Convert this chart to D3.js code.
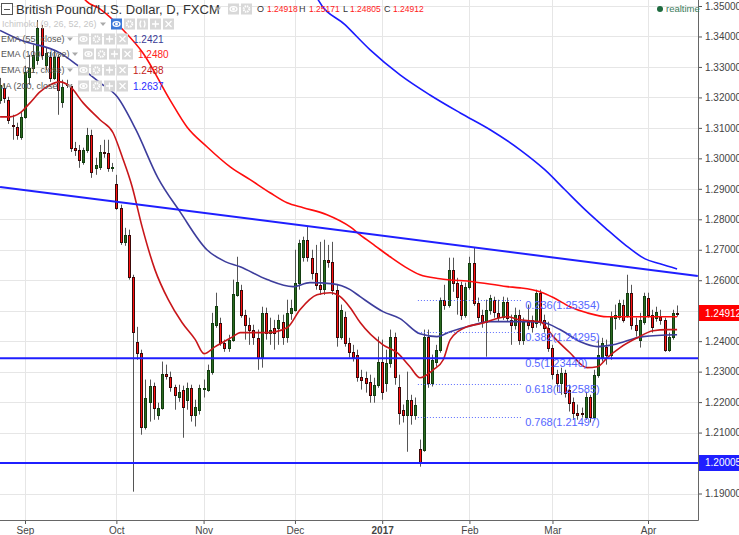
<!DOCTYPE html>
<html>
<head>
<meta charset="utf-8">
<script src="https://cdn.jsdelivr.net/npm/d3@7"></script>
<style>
body { margin: 0; background: #fff; }
svg { display: block; font-family: 'Liberation Sans', Arial, sans-serif; }
</style>
</head>
<body>
<script>
// daily GBP/USD candles, [open, high, low, close], one per trading day from late Aug 2016
const candles = [
  [1.3192, 1.3264, 1.3179, 1.3241], [1.3231, 1.3244, 1.3182, 1.3199], [1.3192, 1.3202, 1.3113, 1.3126],
  [1.3110, 1.3143, 1.3061, 1.3107], [1.3103, 1.3117, 1.3061, 1.3077], [1.3071, 1.3153, 1.3061, 1.3136],
  [1.3136, 1.3304, 1.3130, 1.3284], [1.3267, 1.3340, 1.3241, 1.3297], [1.3297, 1.3372, 1.3284, 1.3340],
  [1.3323, 1.3454, 1.3307, 1.3428], [1.3428, 1.3438, 1.3323, 1.3340], [1.3307, 1.3363, 1.3290, 1.3346],
  [1.3333, 1.3349, 1.3251, 1.3264], [1.3264, 1.3356, 1.3258, 1.3333], [1.3333, 1.3340, 1.3143, 1.3225],
  [1.3185, 1.3258, 1.3166, 1.3235], [1.3241, 1.3258, 1.3231, 1.3244], [1.3238, 1.3244, 1.3021, 1.3035],
  [1.3035, 1.3054, 1.3008, 1.3028], [1.3028, 1.3044, 1.2969, 1.2995], [1.2989, 1.3035, 1.2979, 1.3028],
  [1.3028, 1.3100, 1.3018, 1.3077], [1.3077, 1.3094, 1.2936, 1.2956], [1.2969, 1.3002, 1.2946, 1.2979],
  [1.2972, 1.3044, 1.2962, 1.3021], [1.3021, 1.3061, 1.3002, 1.3018], [1.3018, 1.3061, 1.2956, 1.2969],
  [1.2969, 1.2985, 1.2956, 1.2972], [1.2916, 1.2946, 1.2831, 1.2838], [1.2838, 1.2848, 1.2716, 1.2726],
  [1.2726, 1.2772, 1.2713, 1.2749], [1.2749, 1.2766, 1.2602, 1.2611], [1.2611, 1.2618, 1.1906, 1.2431],
  [1.2398, 1.2447, 1.2339, 1.2362], [1.2362, 1.2372, 1.2093, 1.2120], [1.2120, 1.2274, 1.2110, 1.2215],
  [1.2201, 1.2274, 1.2136, 1.2254], [1.2254, 1.2264, 1.2142, 1.2182], [1.2159, 1.2198, 1.2142, 1.2182],
  [1.2182, 1.2333, 1.2175, 1.2293], [1.2293, 1.2323, 1.2274, 1.2287], [1.2283, 1.2300, 1.2234, 1.2251],
  [1.2251, 1.2257, 1.2175, 1.2224], [1.2218, 1.2257, 1.2201, 1.2234], [1.2241, 1.2254, 1.2083, 1.2185],
  [1.2208, 1.2264, 1.2175, 1.2247], [1.2247, 1.2257, 1.2136, 1.2159], [1.2159, 1.2208, 1.2120, 1.2185],
  [1.2175, 1.2257, 1.2159, 1.2247], [1.2244, 1.2274, 1.2215, 1.2246], [1.2241, 1.2323, 1.2234, 1.2306],
  [1.2300, 1.2493, 1.2290, 1.2461], [1.2454, 1.2559, 1.2444, 1.2516], [1.2461, 1.2477, 1.2385, 1.2395],
  [1.2395, 1.2405, 1.2365, 1.2379], [1.2379, 1.2421, 1.2365, 1.2405], [1.2405, 1.2602, 1.2398, 1.2556],
  [1.2552, 1.2677, 1.2546, 1.2595], [1.2569, 1.2585, 1.2477, 1.2487], [1.2487, 1.2503, 1.2405, 1.2454],
  [1.2454, 1.2477, 1.2388, 1.2438], [1.2438, 1.2454, 1.2388, 1.2415], [1.2411, 1.2438, 1.2306, 1.2346],
  [1.2346, 1.2513, 1.2313, 1.2493], [1.2493, 1.2510, 1.2405, 1.2428], [1.2428, 1.2477, 1.2388, 1.2438],
  [1.2444, 1.2470, 1.2372, 1.2428], [1.2444, 1.2487, 1.2388, 1.2470], [1.2464, 1.2487, 1.2388, 1.2415],
  [1.2415, 1.2536, 1.2395, 1.2493], [1.2493, 1.2536, 1.2470, 1.2510], [1.2503, 1.2700, 1.2497, 1.2592],
  [1.2592, 1.2733, 1.2569, 1.2723], [1.2677, 1.2743, 1.2661, 1.2733], [1.2733, 1.2775, 1.2661, 1.2677],
  [1.2674, 1.2700, 1.2602, 1.2625], [1.2625, 1.2716, 1.2569, 1.2585], [1.2585, 1.2726, 1.2552, 1.2572],
  [1.2572, 1.2733, 1.2552, 1.2667], [1.2667, 1.2716, 1.2641, 1.2661], [1.2661, 1.2726, 1.2552, 1.2569],
  [1.2569, 1.2585, 1.2382, 1.2415], [1.2415, 1.2520, 1.2405, 1.2503], [1.2480, 1.2497, 1.2382, 1.2395],
  [1.2395, 1.2411, 1.2346, 1.2365], [1.2365, 1.2388, 1.2333, 1.2349], [1.2356, 1.2372, 1.2267, 1.2283],
  [1.2283, 1.2306, 1.2241, 1.2274], [1.2280, 1.2300, 1.2231, 1.2264], [1.2267, 1.2290, 1.2198, 1.2224],
  [1.2224, 1.2280, 1.2198, 1.2257], [1.2257, 1.2415, 1.2247, 1.2333], [1.2333, 1.2405, 1.2208, 1.2234],
  [1.2264, 1.2372, 1.2234, 1.2329], [1.2329, 1.2438, 1.2313, 1.2415], [1.2415, 1.2428, 1.2257, 1.2283],
  [1.2251, 1.2290, 1.2126, 1.2165], [1.2175, 1.2192, 1.2133, 1.2159], [1.2159, 1.2300, 1.2037, 1.2208],
  [1.2208, 1.2224, 1.2126, 1.2159], [1.2159, 1.2215, 1.2142, 1.2192], [1.2047, 1.2077, 1.1988, 1.2001],
  [1.2044, 1.2438, 1.2037, 1.2415], [1.2415, 1.2438, 1.2247, 1.2264], [1.2264, 1.2356, 1.2251, 1.2339],
  [1.2333, 1.2388, 1.2316, 1.2372], [1.2372, 1.2543, 1.2362, 1.2536], [1.2536, 1.2585, 1.2503, 1.2520],
  [1.2520, 1.2674, 1.2510, 1.2634], [1.2634, 1.2674, 1.2562, 1.2592], [1.2592, 1.2608, 1.2487, 1.2546],
  [1.2585, 1.2595, 1.2470, 1.2487], [1.2487, 1.2592, 1.2477, 1.2579], [1.2579, 1.2677, 1.2569, 1.2657],
  [1.2657, 1.2707, 1.2516, 1.2526], [1.2526, 1.2543, 1.2464, 1.2480], [1.2487, 1.2503, 1.2444, 1.2464],
  [1.2464, 1.2536, 1.2349, 1.2503], [1.2503, 1.2552, 1.2487, 1.2543], [1.2536, 1.2546, 1.2477, 1.2497],
  [1.2493, 1.2536, 1.2464, 1.2480], [1.2480, 1.2546, 1.2470, 1.2529], [1.2529, 1.2543, 1.2464, 1.2477],
  [1.2470, 1.2487, 1.2388, 1.2454], [1.2454, 1.2510, 1.2438, 1.2487], [1.2487, 1.2503, 1.2388, 1.2405],
  [1.2405, 1.2477, 1.2388, 1.2464], [1.2464, 1.2520, 1.2438, 1.2454], [1.2470, 1.2484, 1.2428, 1.2447],
  [1.2461, 1.2569, 1.2444, 1.2559], [1.2559, 1.2569, 1.2451, 1.2464], [1.2470, 1.2487, 1.2428, 1.2444],
  [1.2444, 1.2464, 1.2365, 1.2379], [1.2379, 1.2388, 1.2274, 1.2293], [1.2293, 1.2306, 1.2234, 1.2264],
  [1.2264, 1.2313, 1.2224, 1.2297], [1.2297, 1.2306, 1.2215, 1.2231], [1.2241, 1.2257, 1.2169, 1.2198],
  [1.2201, 1.2215, 1.2142, 1.2165], [1.2165, 1.2192, 1.2142, 1.2159], [1.2165, 1.2182, 1.2149, 1.2162],
  [1.2152, 1.2234, 1.2142, 1.2218], [1.2218, 1.2224, 1.2133, 1.2152], [1.2152, 1.2306, 1.2142, 1.2290],
  [1.2290, 1.2405, 1.2280, 1.2356], [1.2349, 1.2411, 1.2333, 1.2395], [1.2382, 1.2405, 1.2323, 1.2356],
  [1.2356, 1.2497, 1.2339, 1.2480], [1.2477, 1.2520, 1.2438, 1.2487], [1.2480, 1.2536, 1.2470, 1.2526],
  [1.2520, 1.2536, 1.2461, 1.2470], [1.2487, 1.2618, 1.2477, 1.2559], [1.2559, 1.2585, 1.2438, 1.2454],
  [1.2454, 1.2477, 1.2415, 1.2438], [1.2405, 1.2493, 1.2379, 1.2470], [1.2464, 1.2559, 1.2454, 1.2549],
  [1.2543, 1.2559, 1.2477, 1.2487], [1.2487, 1.2503, 1.2428, 1.2447], [1.2477, 1.2513, 1.2464, 1.2497],
  [1.2480, 1.2503, 1.2454, 1.2470], [1.2470, 1.2477, 1.2365, 1.2372], [1.2372, 1.2428, 1.2365, 1.2415],
  [1.2415, 1.2503, 1.2405, 1.2493], [1.24918, 1.25171, 1.24805, 1.24912]
]

// indicator lines, [bar, price]
const ema100 = [[19.5, 1.3560], [20.5, 1.3520], [24.1, 1.3490], [29.6, 1.3422], [34.4, 1.3346], [40.9, 1.3192],
  [45.0, 1.3103], [49.8, 1.3038], [55.4, 1.2972], [60.2, 1.2930], [65.0, 1.2887], [69.1, 1.2854], [73.0, 1.2838],
  [78.7, 1.2815], [84.3, 1.2775], [86.7, 1.2749], [90.3, 1.2713], [93.9, 1.2677], [97.5, 1.2644], [101.1, 1.2618],
  [105.9, 1.2605], [113.9, 1.2595], [122.1, 1.2579], [125.2, 1.2575], [130.0, 1.2562], [133.2, 1.2543],
  [137.2, 1.2513], [141.3, 1.2493], [146.2, 1.2480], [149.3, 1.2480], [157.2, 1.2480], [163, 1.2480]]
const ema21 = [[0, 1.3136], [2.4, 1.3136], [4.8, 1.3149], [7.2, 1.3182], [9.6, 1.3218], [12.0, 1.3241],
  [14.4, 1.3251], [16.9, 1.3235], [20.0, 1.3182], [24.1, 1.3126], [27.2, 1.3084], [29.4, 1.3005], [31.8, 1.2907],
  [34.2, 1.2775], [37.3, 1.2634], [40.5, 1.2536], [43.8, 1.2461], [47.0, 1.2405], [49.1, 1.2359], [51.8, 1.2382],
  [56.1, 1.2415], [57.8, 1.2428], [64.3, 1.2428], [69.1, 1.2444], [72.2, 1.2503], [76.3, 1.2552], [79.5, 1.2559],
  [81.9, 1.2546], [84.3, 1.2510], [86.7, 1.2461], [92.2, 1.2388], [95.6, 1.2362], [98.7, 1.2316], [101.1, 1.2280],
  [104.3, 1.2306], [106.7, 1.2339], [108.4, 1.2405], [112.4, 1.2447], [115.6, 1.2457], [122.1, 1.2480],
  [125.2, 1.2470], [130.0, 1.2464], [133.2, 1.2415], [137.2, 1.2362], [141.3, 1.2313], [143.8, 1.2316],
  [146.2, 1.2346], [149.3, 1.2379], [153.4, 1.2411], [157.2, 1.2434], [160.6, 1.2438], [163, 1.2438]]
const ema55 = [[0, 1.3420], [4.8, 1.3389], [14.4, 1.3346], [18.5, 1.3307], [24.1, 1.3248], [28.2, 1.3202],
  [32.7, 1.3094], [38.0, 1.2936], [43.3, 1.2825], [49.8, 1.2700], [54.2, 1.2661], [57.8, 1.2644], [64.3, 1.2602],
  [70.5, 1.2579], [74.6, 1.2592], [80.2, 1.2588], [84.3, 1.2569], [86.7, 1.2546], [92.2, 1.2497], [96.3, 1.2474],
  [101.1, 1.2424], [105.2, 1.2415], [108.4, 1.2431], [112.4, 1.2447], [118.0, 1.2464], [126.9, 1.2464],
  [130.7, 1.2461], [134.8, 1.2438], [139.7, 1.2398], [143.8, 1.2382], [147.6, 1.2388], [154.8, 1.2415], [163, 1.2421]]
const ma200 = [[76.0, 1.3545], [76.6, 1.3520], [83.1, 1.3438], [89.1, 1.3356], [96.3, 1.3274], [103.5, 1.3208],
  [110.8, 1.3149], [118.0, 1.3094], [125.2, 1.3028], [131.2, 1.2962], [136.0, 1.2897], [140.9, 1.2831],
  [145.7, 1.2772], [150.5, 1.2716], [155.3, 1.2670], [158.9, 1.2654], [163, 1.2637]]

// drawings
const trendBars = [0, 168]
const trendPrices = [1.2906, 1.2614]
const hLevels = [1.23440, 1.20005]
const fibRatios = [0.236, 0.382, 0.5, 0.618, 0.768]
const fibPrices = [1.25354, 1.24295, 1.23440, 1.22585, 1.21497]
const fibBars = [100.6, 125.7]

// axes
const priceTicks = [1.19, 1.20, 1.21, 1.22, 1.23, 1.24, 1.25, 1.26, 1.27, 1.28, 1.29, 1.30, 1.31, 1.32, 1.33, 1.34, 1.35]
const monthBars = [6, 28, 49, 71, 92, 113, 133, 156]
const monthLabels = ['Sep', 'Oct', 'Nov', 'Dec', '2017', 'Feb', 'Mar', 'Apr']
const lastPrice = 1.24912

const width = 739
const height = 535
const plotW = 698
const plotH = 520

const svg = d3.select('body').append('svg')
  .attr('width', width)
  .attr('height', height)

const x = d3.scaleLinear().domain([6, 156]).range([25, 648])
const y = d3.scaleLinear().domain([1.19, 1.35]).range([493.5, 6])

svg.append('defs').append('clipPath').attr('id', 'plot')
  .append('rect').attr('width', plotW).attr('height', plotH)

// grid
const grid = svg.append('g').attr('stroke', '#e6e6e6').attr('shape-rendering', 'crispEdges')
grid.selectAll('.gy').data(priceTicks).enter().append('line')
  .attr('x1', 0).attr('x2', plotW)
  .attr('y1', (d) => Math.round(y(d)) + 0.5).attr('y2', (d) => Math.round(y(d)) + 0.5)
grid.selectAll('.gx').data(monthBars).enter().append('line')
  .attr('y1', 0).attr('y2', plotH)
  .attr('x1', (d) => Math.round(x(d)) + 0.5).attr('x2', (d) => Math.round(x(d)) + 0.5)

const plot = svg.append('g').attr('clip-path', 'url(#plot)')

// candles
const cg = plot.append('g')
const px = (i) => Math.round(x(i))
cg.selectAll('.wick').data(candles).enter().append('line')
  .attr('x1', (d, i) => px(i) + 0.5).attr('x2', (d, i) => px(i) + 0.5)
  .attr('y1', (d) => y(d[1])).attr('y2', (d) => y(d[2]))
  .attr('stroke', '#555')
cg.selectAll('.body').data(candles).enter().append('rect')
  .attr('x', (d, i) => px(i) - 0.5)
  .attr('y', (d) => Math.round(y(Math.max(d[0], d[3]))) + 0.5)
  .attr('width', 2)
  .attr('height', (d) => Math.max(1, Math.round(Math.abs(y(d[0]) - y(d[3])))))
  .attr('fill', (d) => d[3] >= d[0] ? '#2b6b1f' : '#ff1010')
  .attr('stroke', (d) => d[3] >= d[0] ? '#123d10' : '#3a0808')

// indicator lines
const line = d3.line().x((d) => x(d[0])).y((d) => y(d[1])).curve(d3.curveMonotoneX)
const series = [[ma200, '#1a1aff'], [ema100, '#ff0d0d'], [ema55, '#3d3d9c'], [ema21, '#c8161a']]
series.forEach(([data, color]) => {
  plot.append('path').datum(data)
    .attr('d', line)
    .attr('fill', 'none')
    .attr('stroke', color)
    .attr('stroke-width', 1.6)
})

// fib retracement
const fib = plot.append('g')
fibPrices.forEach((p, k) => {
  fib.append('line')
    .attr('x1', x(fibBars[0])).attr('x2', x(fibBars[1]))
    .attr('y1', Math.round(y(p)) + 0.5).attr('y2', Math.round(y(p)) + 0.5)
    .attr('stroke', '#5b6cff').attr('stroke-dasharray', '1,2')
  fib.append('text')
    .attr('x', x(fibBars[1]) + 3).attr('y', y(p) + 9)
    .attr('fill', '#5566ff').attr('font-size', 11)
    .text(`${fibRatios[k]}(${p.toFixed(5)})`)
})

// horizontal levels and trend line
hLevels.forEach((p) => {
  plot.append('line')
    .attr('x1', 0).attr('x2', plotW)
    .attr('y1', y(p)).attr('y2', y(p))
    .attr('stroke', '#1f1fff').attr('stroke-width', 2)
})
plot.append('line')
  .attr('x1', x(trendBars[0])).attr('y1', y(trendPrices[0]))
  .attr('x2', x(trendBars[1])).attr('y2', y(trendPrices[1]))
  .attr('stroke', '#1f1fff').attr('stroke-width', 2)

// price tags on the axis
const tags = [[lastPrice, '#ff0000'], [hLevels[1], '#1f1fff']]

// right price axis, labels hidden where a tag sits
const ya = svg.append('g')
  .attr('transform', `translate(${plotW},0)`)
  .call(d3.axisRight(y).tickValues(priceTicks).tickFormat(d3.format('.5f')).tickSize(4))
ya.select('.domain').remove()
ya.selectAll('line').attr('stroke', '#555')
ya.selectAll('text').attr('fill', '#444').attr('font-size', 10).attr('font-family', null)
ya.selectAll('.tick').filter((d) => tags.some(([p]) => Math.abs(y(p) - y(d)) < 12)).select('text').remove()

// bottom time axis
const xa = svg.append('g')
  .attr('transform', `translate(0,${plotH})`)
  .call(d3.axisBottom(x).tickValues(monthBars).tickFormat((d, i) => monthLabels[i]).tickSize(4))
xa.select('.domain').remove()
xa.selectAll('line').attr('stroke', '#555')
xa.selectAll('text').attr('fill', '#444').attr('font-size', 10).attr('font-family', null)
  .attr('font-weight', (d, i) => monthLabels[i] === '2017' ? 'bold' : null)

svg.append('line').attr('x1', plotW + 0.5).attr('x2', plotW + 0.5).attr('y1', 0).attr('y2', plotH + 0.5)
  .attr('stroke', '#666')
svg.append('line').attr('x1', 0).attr('x2', plotW + 0.5).attr('y1', plotH + 0.5).attr('y2', plotH + 0.5)
  .attr('stroke', '#666')

tags.forEach(([p, color]) => {
  svg.append('rect').attr('x', plotW + 1).attr('y', Math.round(y(p)) - 8).attr('width', 41).attr('height', 16)
    .attr('fill', color)
  svg.append('text').attr('x', plotW + 7).attr('y', y(p)).attr('dy', '0.35em')
    .attr('fill', '#fff').attr('font-size', 10).text(p.toFixed(5))
})

// legend
const legend = svg.append('g')
const arrow = (ax, ay) => legend.append('path')
  .attr('d', `M${ax},${ay - 1.5}h6l-3,3.5z`).attr('fill', '#aaa')
const icon = (ix, iy, kind, fill) => {
  legend.append('rect').attr('x', ix).attr('y', iy - 5.5).attr('width', 11).attr('height', 11)
    .attr('fill', fill || '#d8d8d8')
  const cx = ix + 5.5
  const s = legend.append('g').attr('stroke', '#fff').attr('fill', 'none').attr('stroke-width', 1.3)
  if (kind === 'eye') {
    s.append('ellipse').attr('cx', cx).attr('cy', iy).attr('rx', 3.5).attr('ry', 2.3)
    s.append('circle').attr('cx', cx).attr('cy', iy).attr('r', 0.8).attr('fill', '#fff')
  } else if (kind === 'gear') {
    s.append('circle').attr('cx', cx).attr('cy', iy).attr('r', 2.8).attr('stroke-dasharray', '1.4,0.8').attr('stroke-width', 2)
  } else if (kind === 'plus') {
    s.append('path').attr('d', `M${cx - 3.5},${iy}h7M${cx},${iy - 3.5}v7`)
  } else if (kind === 'x') {
    s.append('path').attr('d', `M${cx - 3},${iy - 3}l6,6M${cx + 3},${iy - 3}l-6,6`)
  } else {
    s.append('path').attr('d', `M${cx - 1.5},${iy - 3.5}q-2,3.5 0,7M${cx + 1.5},${iy - 3.5}q2,3.5 0,7`)
  }
}

legend.append('rect').attr('x', 1.5).attr('y', 3.5).attr('width', 11).attr('height', 11)
  .attr('fill', '#fff').attr('stroke', '#555')
legend.append('line').attr('x1', 4).attr('x2', 10).attr('y1', 9.5).attr('y2', 9.5).attr('stroke', '#555')
legend.append('text').attr('x', 16).attr('y', 9).attr('dy', '0.36em')
  .attr('font-size', 13).attr('fill', '#333').text('British Pound/U.S. Dollar, D, FXCM')
arrow(215, 9)
icon(228, 9, 'eye')
icon(241, 9, 'gear')

const ohlcNames = ['O', 'H', 'L', 'C']
const ohlcX = [257, 299, 343, 384]
const ohlcGap = [10, 10, 7, 9]
ohlcNames.forEach((n, k) => {
  legend.append('text').attr('x', ohlcX[k]).attr('y', 9).attr('dy', '0.36em')
    .attr('font-size', 9).attr('fill', '#333').text(n)
  legend.append('text').attr('x', ohlcX[k] + ohlcGap[k]).attr('y', 9).attr('dy', '0.36em')
    .attr('font-size', 8.5).attr('fill', '#ff1a1a').text(candles[candles.length - 1][k].toFixed(5))
})

const rows = [
  { text: 'Ichimoku (9, 26, 52, 26)', ry: 24, tx: 2, color: '#c6c6c6', ax: 100, icons: [111, 124, 137, 150, 163], kinds: ['eye', 'gear', 'paren', 'plus', 'x'] },
  { text: 'EMA (55, close)', ry: 39, tx: 1, color: '#555', ax: 67, icons: [78, 91, 104, 117], value: '1.2421', vc: '#3a3a96', vx: 133 },
  { text: 'EMA (100, close)', ry: 54, tx: 1, color: '#555', ax: 72, icons: [83, 96, 109, 122], value: '1.2480', vc: '#ff2020', vx: 138 },
  { text: 'EMA (21, close)', ry: 70, tx: 1, color: '#555', ax: 67, icons: [78, 91, 104, 117], value: '1.2438', vc: '#c41a1a', vx: 133 },
  { text: 'MA (200, close)', ry: 86, tx: -2, color: '#555', ax: 67, icons: [78, 91, 104, 117], value: '1.2637', vc: '#2a2aff', vx: 133 }
]
rows.forEach((r) => {
  legend.append('text').attr('x', r.tx).attr('y', r.ry).attr('dy', '0.36em')
    .attr('font-size', 9).attr('fill', r.color).text(r.text)
  arrow(r.ax, r.ry)
  const kinds = r.kinds || ['eye', 'gear', 'plus', 'x']
  r.icons.forEach((ix, k) => icon(ix, r.ry, kinds[k], (r.kinds && k === 0) ? '#3b78d8' : null))
  if (r.value) {
    legend.append('text').attr('x', r.vx).attr('y', r.ry).attr('dy', '0.36em')
      .attr('font-size', 10).attr('fill', r.vc).text(r.value)
  }
})

// realtime marker
svg.append('circle').attr('cx', 660).attr('cy', 9).attr('r', 3).attr('fill', '#1e6b3f')
svg.append('text').attr('x', 666).attr('y', 9).attr('dy', '0.36em')
  .attr('font-size', 9.5).attr('fill', '#3d7c5c').text('realtime')
</script>
</body>
</html>
